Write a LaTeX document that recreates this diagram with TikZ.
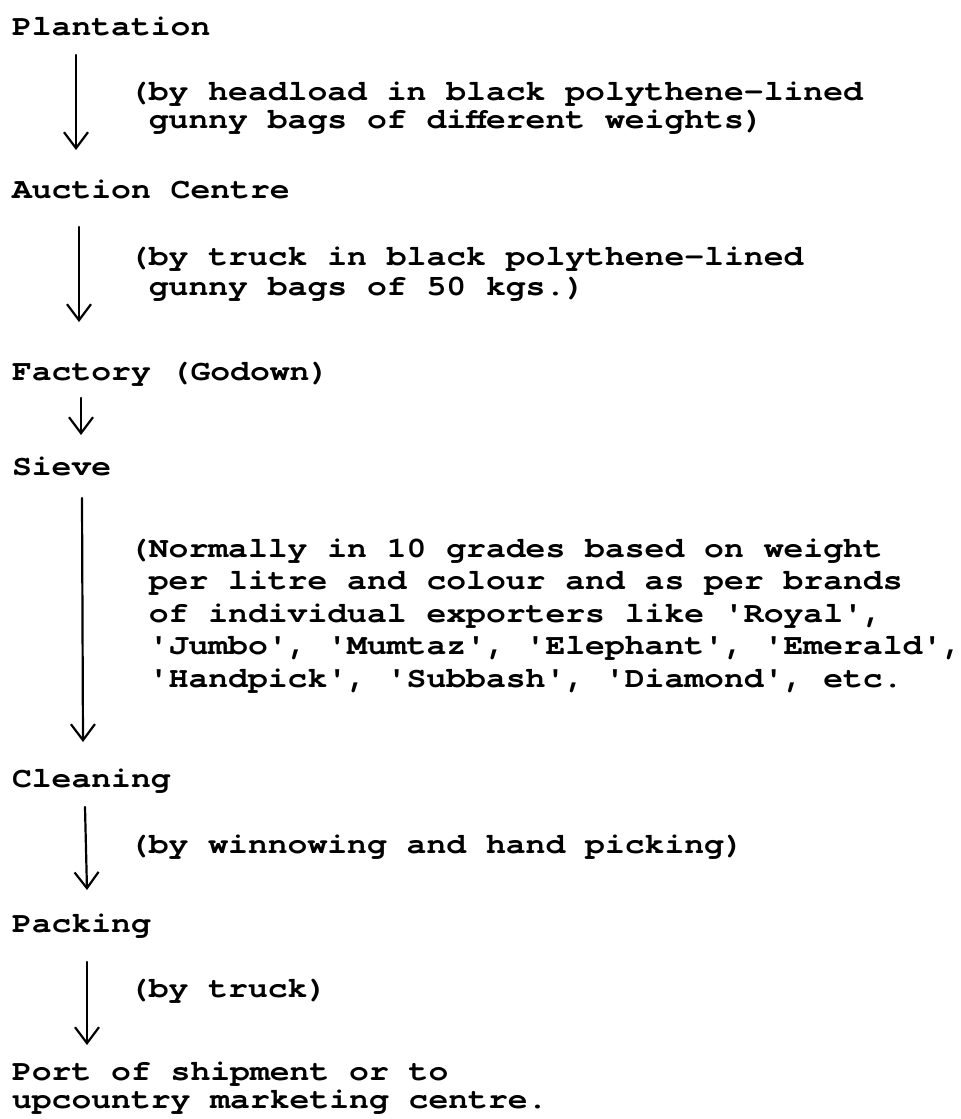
\documentclass[tikz,border=0pt]{standalone}
\usepackage{fontspec}
\usetikzlibrary{arrows.meta}
% heavy typewriter face, slightly widened to a typewriter pitch
\newfontfamily\tw{texgyrecursor-bold.otf}[FakeStretch=1.14]
% stacked lines with a fixed baseline distance; baseline = first line
\newcommand\txtlines[2]{\vtop{\baselineskip=#1\lineskiplimit=-\maxdimen
  \halign{##\hfil\cr#2\crcr}}}
\tikzset{
  lbl/.style={anchor=base west, inner sep=0pt, outer sep=0pt,
    font=\tw\fontsize{14.5pt}{15pt}\selectfont},
  flow/.style={line width=1.1pt, line cap=round,
    -{Straight Barb[length=8pt,width=12pt]}},
}
\begin{document}
\begin{tikzpicture}[x=0.5pt,y=-0.5pt]
\useasboundingbox (0,0) rectangle (961,1119);

% stages
\node[lbl] (plant)   at (12,35)   {Plantation};
\node[lbl] (auction) at (12,198)  {Auction Centre};
\node[lbl] (factory) at (12,380)  {Factory (Godown)};
\node[lbl] (sieve)   at (12,475)  {Sieve};
\node[lbl] (clean)   at (12,787)  {Cleaning};
\node[lbl] (pack)    at (12,932)  {Packing};
\node[lbl] (port)    at (12,1080) {\txtlines{14pt}{Port of shipment or to\cr
  upcountry marketing centre.}};

% notes beside the arrows
\node[lbl] (n1) at (129,100) {\txtlines{14pt}{(by headload in black polythene-lined\cr
  \phantom{(}gunny bags of different weights)}};
\node[lbl] (n2) at (129,265) {\txtlines{15pt}{(by truck in black polythene-lined\cr
  \phantom{(}gunny bags of 50 kgs.)}};
\node[lbl] (n3) at (129,557) {\txtlines{16.25pt}{(Normally in 10 grades based on weight\cr
  \phantom{(}per litre and colour and as per brands\cr
  \phantom{(}of individual exporters like 'Royal',\cr
  \phantom{(}'Jumbo', 'Mumtaz', 'Elephant', 'Emerald',\cr
  \phantom{(}'Handpick', 'Subbash', 'Diamond', etc.}};
\node[lbl] (n4) at (129,853) {(by winnowing and hand picking)};
\node[lbl] (n5) at (129,997) {(by truck)};

% flow arrows
\draw[flow] ([shift={(64,20)}]plant.base west)   -- ([shift={(64,-48)}]auction.base west);
\draw[flow] ([shift={(67,29)}]auction.base west) -- ([shift={(67,-58)}]factory.base west);
\draw[flow] ([shift={(69,18)}]factory.base west) -- ([shift={(69,-40)}]sieve.base west);
\draw[flow] ([shift={(70,23)}]sieve.base west)   -- ([shift={(71,-45)}]clean.base west);
\draw[flow] ([shift={(73,20)}]clean.base west)   -- ([shift={(75,-42)}]pack.base west);
\draw[flow] ([shift={(75,30)}]pack.base west)    -- ([shift={(75,-35)}]port.base west);
\end{tikzpicture}
\end{document}
